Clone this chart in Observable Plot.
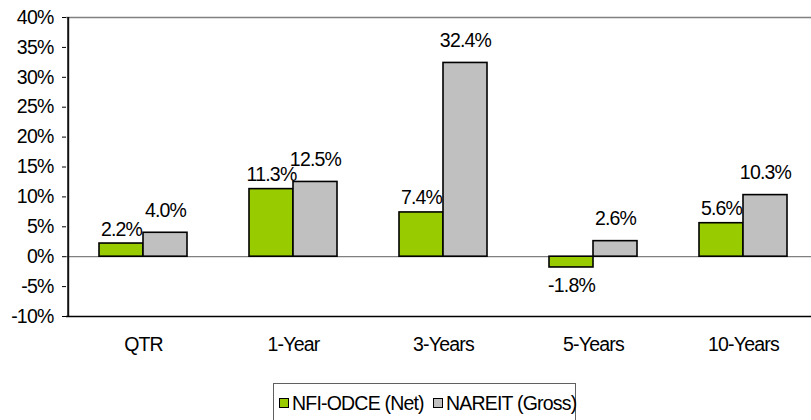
<!DOCTYPE html>
<html>
<head>
<meta charset="utf-8">
<script src="https://cdn.jsdelivr.net/npm/d3@7"></script>
<script src="https://cdn.jsdelivr.net/npm/@observablehq/plot@0.6"></script>
<style>
  html, body { margin: 0; padding: 0; background: #fff; overflow: hidden; }
  #chart { position: relative; width: 811px; height: 420px; font-family: "Liberation Sans", Arial, sans-serif; }
  .legend { position: absolute; left: 273px; top: 383px; width: 303px; height: 45px; border: 1px solid #606060; box-sizing: border-box; }
  .item { position: absolute; top: 8px; font-size: 19.5px; letter-spacing: -0.8px; color: #000; line-height: 22px; white-space: nowrap; }
  .sw { position: absolute; width: 8px; height: 8px; border: 1px solid #000; }
</style>
</head>
<body>
<div id="chart"></div>
<script>
const categories = ["QTR", "1-Year", "3-Years", "5-Years", "10-Years"];
const seriesNames = ["NFI-ODCE (Net)", "NAREIT (Gross)"];
const nfiValues = [2.2, 11.3, 7.4, -1.8, 5.6];
const nareitValues = [4.0, 12.5, 32.4, 2.6, 10.3];
const yTicks = [-10, -5, 0, 5, 10, 15, 20, 25, 30, 35, 40];
const colors = ["#99CC00", "#C0C0C0"];

const nfi = categories.map((c, i) => ({cat: c, series: seriesNames[0], value: nfiValues[i]}));
const nareit = categories.map((c, i) => ({cat: c, series: seriesNames[1], value: nareitValues[i]}));
const fmt = v => v.toFixed(1) + "%";
const half = 22; // half of the 44px bar band: the two series sit side by side on the category band

const chart = Plot.plot({
  width: 811,
  height: 375,
  marginLeft: 66,
  marginRight: -8,
  marginTop: 17,
  marginBottom: 59,
  style: {fontFamily: "'Liberation Sans', Arial, sans-serif", fontSize: "19.5px", letterSpacing: "-0.8px", color: "#000", background: "#fff"},
  x: {domain: categories, paddingInner: 0.708, paddingOuter: 0.354, tickSize: 0, tickPadding: 21, label: null},
  y: {domain: [-10, 40], ticks: yTicks, tickFormat: d => d + "%", tickSize: 4, tickPadding: 9, label: null},
  color: {domain: seriesNames, range: colors},
  marks: [
    Plot.ruleY([40], {stroke: "#808080", strokeWidth: 1.5}),
    Plot.ruleY([0], {stroke: "#808080", strokeWidth: 1.2}),
    Plot.barY(nfi, {x: "cat", y: "value", dx: -half, fill: "series", stroke: "#000", strokeWidth: 1.6}),
    Plot.barY(nareit, {x: "cat", y: "value", dx: half, fill: "series", stroke: "#000", strokeWidth: 1.6}),
    Plot.text(nfi.filter(d => d.value >= 0), {x: "cat", y: "value", text: d => fmt(d.value), dx: -half, lineAnchor: "bottom", dy: -8, fill: "#000", fontSize: 19.5}),
    Plot.text(nareit.filter(d => d.value >= 0), {x: "cat", y: "value", text: d => fmt(d.value), dx: half, lineAnchor: "bottom", dy: -16, fill: "#000", fontSize: 19.5}),
    Plot.text(nfi.filter(d => d.value < 0), {x: "cat", y: "value", text: d => fmt(d.value), dx: -half, lineAnchor: "top", dy: 11, fill: "#000", fontSize: 19.5}),
    Plot.ruleY([-10], {stroke: "#000", strokeWidth: 1.5}),
    // left axis line: placed from the first category band's centre, shifted back to the band range start
    Plot.ruleX([categories[0]], {x: d => d, dx: -75.3, y1: -10, y2: 40, stroke: "#111", strokeWidth: 2})
  ]
});
const root = document.getElementById("chart");
root.appendChild(chart);

const legend = document.createElement("div");
legend.className = "legend";
const lx = [5, 159];
seriesNames.forEach((name, i) => {
  const sw = document.createElement("div");
  sw.className = "sw";
  sw.style.left = lx[i] + "px";
  sw.style.top = "14px";
  sw.style.background = colors[i];
  legend.appendChild(sw);
  const it = document.createElement("div");
  it.className = "item";
  it.style.left = (lx[i] + 13) + "px";
  it.textContent = name;
  legend.appendChild(it);
});
root.appendChild(legend);
</script>
</body>
</html>
